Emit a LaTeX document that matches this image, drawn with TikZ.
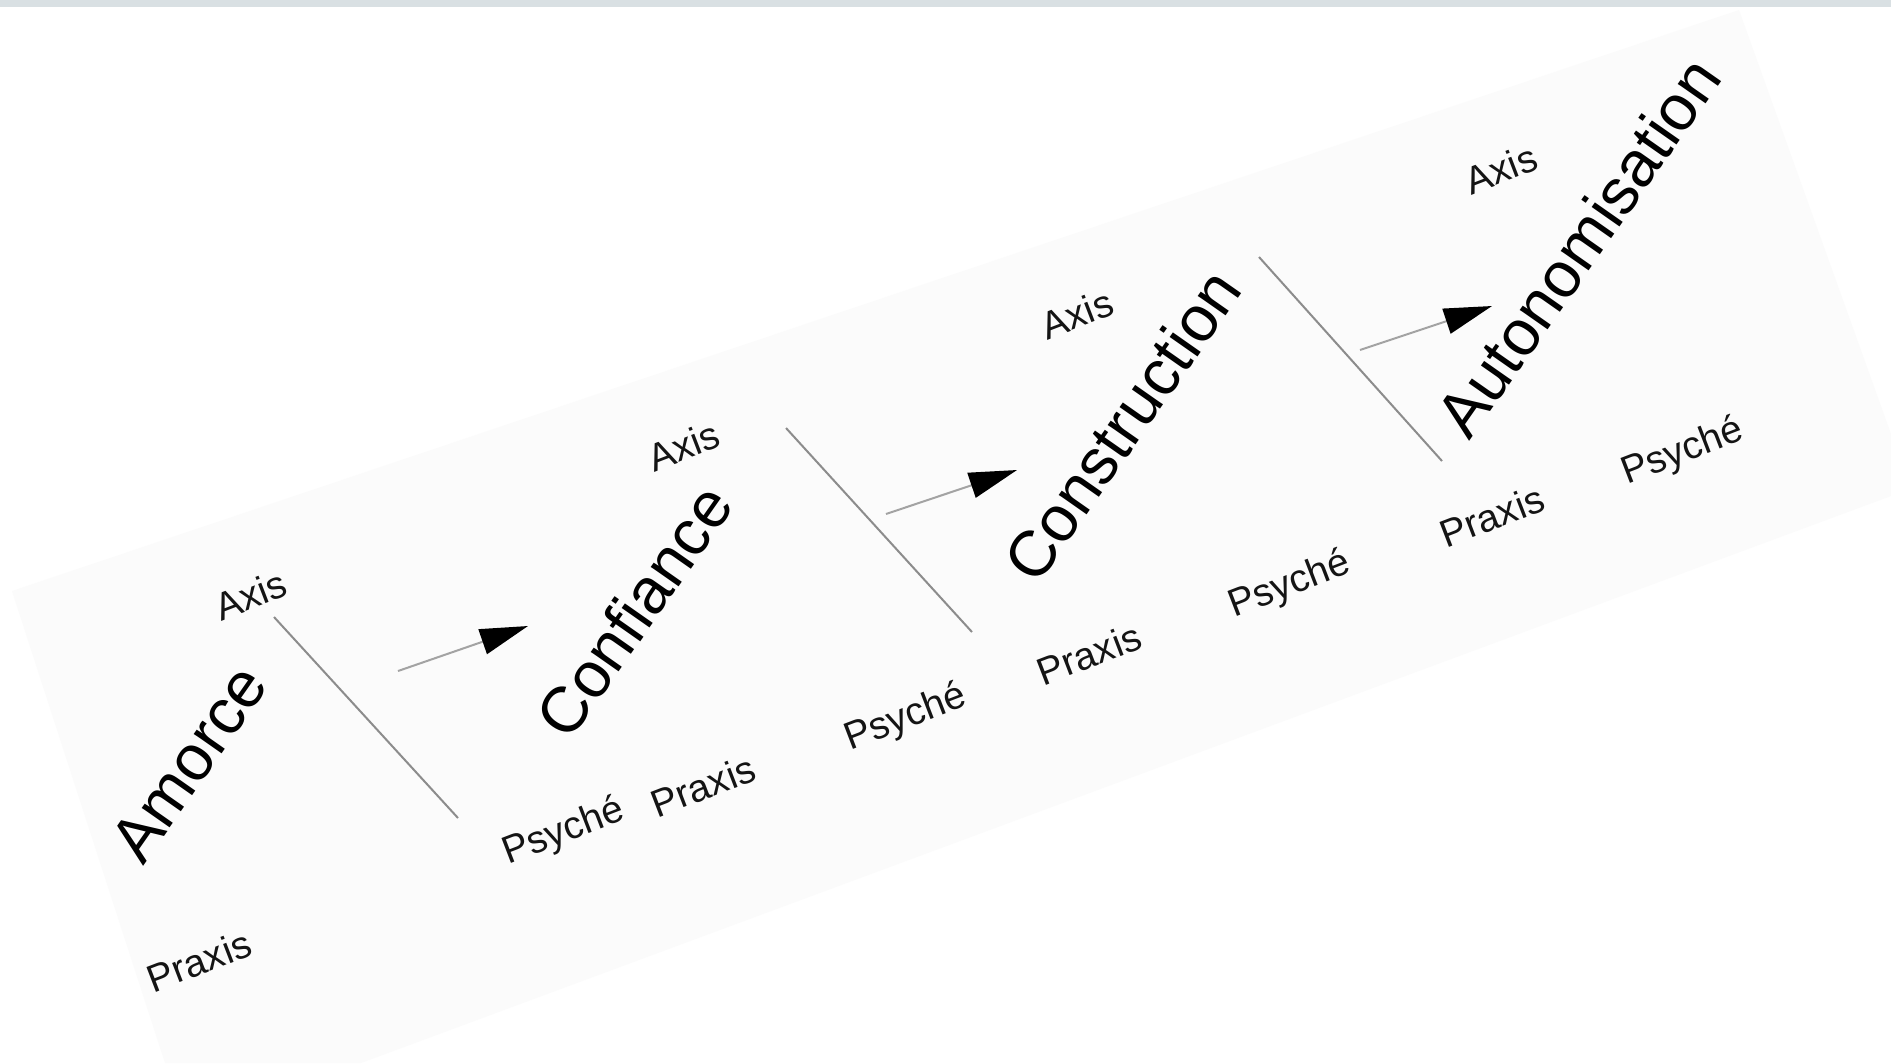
\documentclass[tikz,border=0pt]{standalone}
\usepackage{fontspec}
\setmainfont{Liberation Sans}
\usetikzlibrary{arrows.meta}

\definecolor{band}{HTML}{D9E0E3}
\definecolor{sheet}{HTML}{FBFBFB}
\definecolor{rule}{HTML}{8C8C8C}

\begin{document}
\begin{tikzpicture}[x=0.1mm, y=-0.1mm,
						stage/.style={font=\fontsize{18.3}{22}\selectfont, text=black, rotate=55, inner sep=0pt},
						tag/.style={font=\fontsize{11}{13}\selectfont, text=black!92, rotate=21, inner sep=0pt},
						sep/.style={draw=rule, line width=0.2mm},
						go/.style={draw=rule!80, line width=0.2mm, -{Triangle[length=4.8mm, width=2.6mm, color=black]}},]
		\useasboundingbox (0,0) rectangle (1891,1063);
		\fill[white] (0,0) rectangle (1891,1063);
		\fill[band] (0,0) rectangle (1891,7);
		\fill[sheet] (12,591) -- (1739,10) -- (1891,434) -- (1891,496) -- (361,1063) -- (165,1063) -- cycle;

		% stages
		\node (amorce) [stage] at (189,763) {Amorce};
		\node (conf) [stage] at (634,611) {Confiance};
		\node (constr) [stage] at (1122,425) {Construction};
		\node (auton) [stage] at (1578,247) {Autonomisation};

		% small labels
		\node (axis_a) [tag] at (251,595) {Axis};
		\node (praxis_a) [tag] at (199,961) {Praxis};
		\node (axis_b) [tag] at (684,446) {Axis};
		\node (psyche_b) [tag] at (564,832) {Psyché};
		\node (praxis_b) [tag] at (703,786) {Praxis};
		\node (axis_c) [tag] at (1077,314) {Axis};
		\node (psyche_c) [tag] at (906,718) {Psyché};
		\node (praxis_c) [tag] at (1089,654) {Praxis};
		\node (psyche_d) [tag] at (1290,585) {Psyché};
		\node (axis_d) [tag] at (1501,169) {Axis};
		\node (praxis_d) [tag] at (1492,516) {Praxis};
		\node (psyche_e) [tag] at (1683,452) {Psyché};

		% separators and arrows
		\coordinate (sep1_top) at (274,617);
		\coordinate (sep1_bot) at (458,818);
		\coordinate (sep2_top) at (786,428);
		\coordinate (sep2_bot) at (972,632);
		\coordinate (sep3_top) at (1259,257);
		\coordinate (sep3_bot) at (1442,461);
		\coordinate (go1_s) at (398,671);
		\coordinate (go1_e) at (528,626);
		\coordinate (go2_s) at (886,514);
		\coordinate (go2_e) at (1017,470);
		\coordinate (go3_s) at (1360,350);
		\coordinate (go3_e) at (1492,306);

		\path 	(sep1_top) edge[sep] (sep1_bot)
				(sep2_top) edge[sep] (sep2_bot)
				(sep3_top) edge[sep] (sep3_bot)
				(go1_s) edge[go] (go1_e)
				(go2_s) edge[go] (go2_e)
				(go3_s) edge[go] (go3_e);
	\end{tikzpicture}
\end{document}
